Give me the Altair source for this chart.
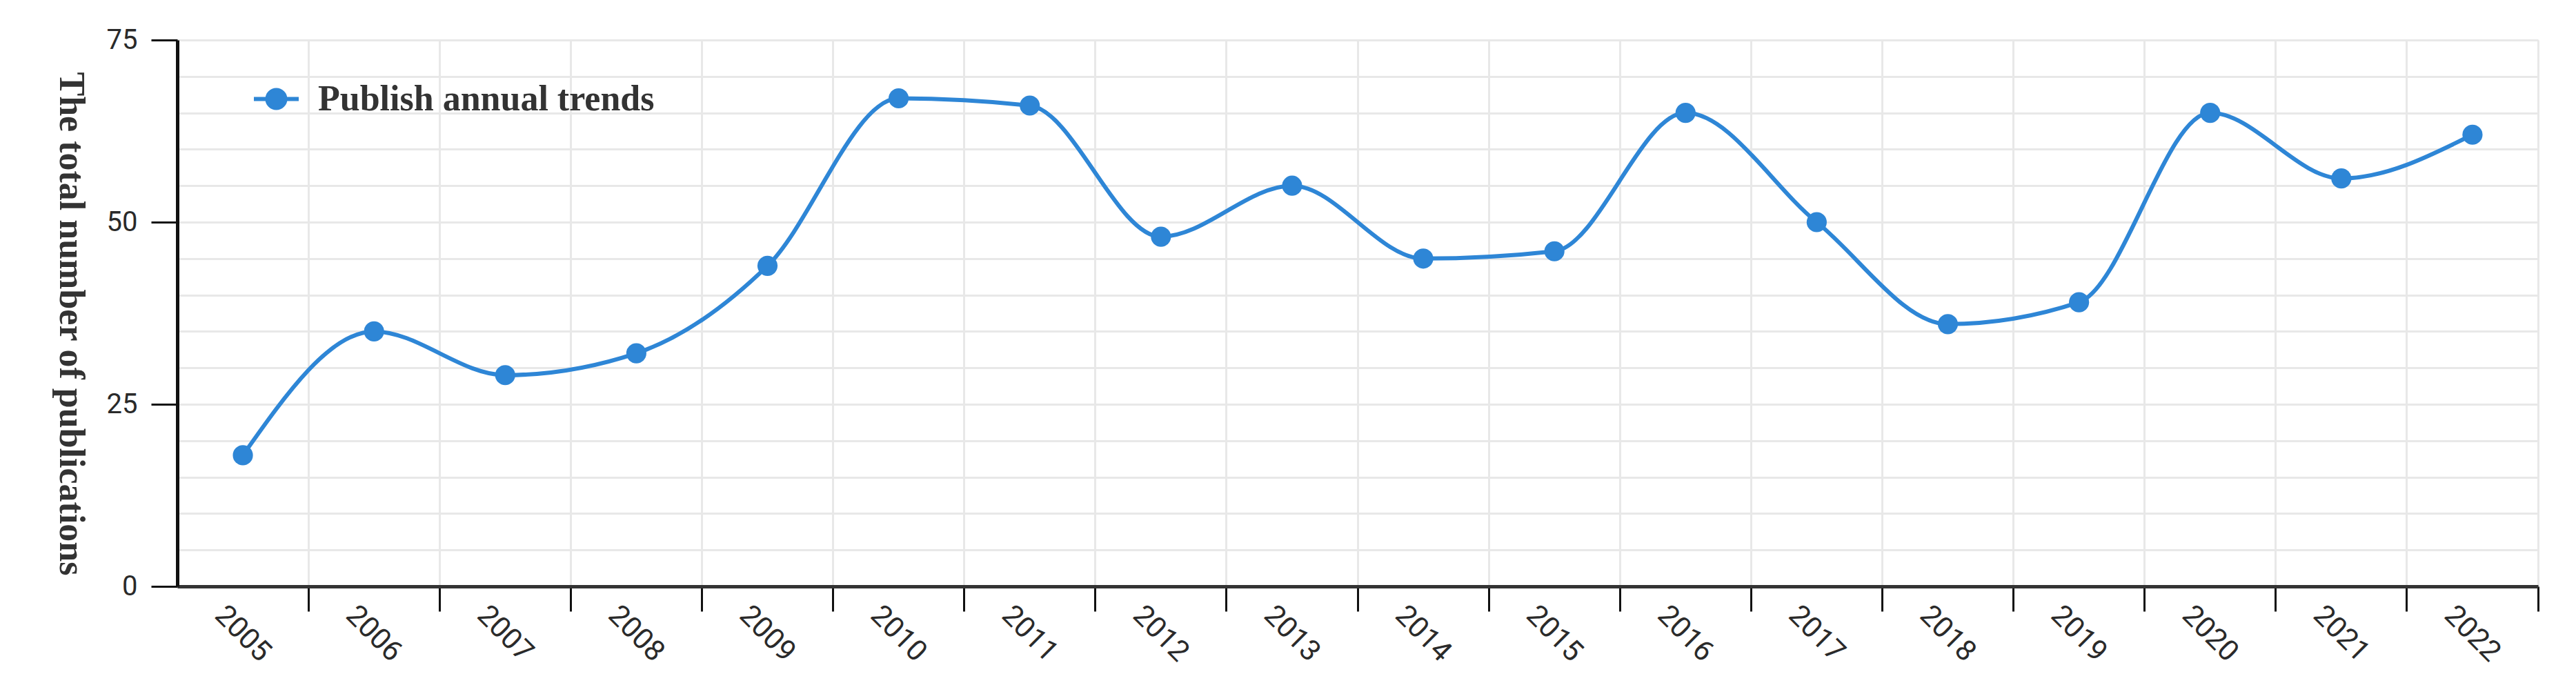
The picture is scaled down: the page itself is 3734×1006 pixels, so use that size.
import altair as alt
import pandas as pd

years = ["2005", "2006", "2007", "2008", "2009", "2010", "2011", "2012", "2013",
         "2014", "2015", "2016", "2017", "2018", "2019", "2020", "2021", "2022"]
counts = [18, 35, 29, 32, 44, 67, 66, 48, 55, 45, 46, 65, 50, 36, 39, 65, 56, 62]
series_name = "Publish annual trends"
y_title = "The total number of publications"
grid_values = list(range(0, 80, 5))

df = pd.DataFrame({"year": years, "count": counts, "series": [series_name] * len(years)})

BLUE = "#2e86d6"
W, H = 3422, 792

x_enc = alt.X(
    "year:O",
    bandPosition=0.5,
    scale=alt.Scale(type="band", paddingInner=0, paddingOuter=0),
    axis=alt.Axis(
        title=None, bandPosition=1, labelOffset=0,
        labelAngle=45, labelAlign="center", labelBaseline="middle",
        labelPadding=32, labelFont="Roboto", labelFontSize=42, labelColor="#2a2a2a",
        labelOverlap=False,
        tickSize=36, tickWidth=3, tickColor="#111",
        domainColor="#333", domainWidth=5,
        grid=True, gridColor="#e8e8e8", gridWidth=3,
    ),
)

y_enc = alt.Y(
    "count:Q",
    scale=alt.Scale(domain=[0, 75], nice=False, zero=True),
    axis=alt.Axis(
        title=y_title, values=grid_values,
        labelExpr="datum.value % 25 === 0 ? datum.label : ''",
        tickOpacity={"condition": {"test": "datum.value % 25 === 0", "value": 1}, "value": 0},
        tickSize=38, tickWidth=3, tickColor="#111",
        domainColor="#111", domainWidth=5,
        labelPadding=20, labelFont="Roboto", labelFontSize=40, labelColor="#2a2a2a",
        grid=True, gridColor="#e8e8e8", gridWidth=3,
        titleFont="Liberation Serif", titleFontWeight="bold", titleFontSize=52,
        titleColor="#333", titleAngle=90, titleX=-155, titleY=411,
        titleAlign="center", titleBaseline="middle",
    ),
)

legend = alt.Legend(
    title=None, orient="none", legendX=108, legendY=50, padding=0,
    symbolType="M-1,0L1,0M-0.4,0A0.4,0.4,0,1,0,0.4,0A0.4,0.4,0,1,0,-0.4,0Z",
    symbolSize=4225, symbolStrokeWidth=6,
    symbolFillColor=BLUE, symbolStrokeColor=BLUE, symbolOpacity=1,
    labelFont="Liberation Serif", labelFontWeight="bold", labelFontSize=52,
    labelColor="#333", labelOffset=25, labelLimit=2000,
)

color_enc = alt.Color("series:N", scale=alt.Scale(range=[BLUE]), legend=legend)

base = alt.Chart(df)
line = base.mark_line(interpolate="monotone", strokeWidth=6).encode(x=x_enc, y=y_enc, color=color_enc)
pts = base.mark_point(filled=True, size=850, opacity=1).encode(x=x_enc, y=y_enc, color=color_enc)

chart = (
    alt.layer(line, pts)
    .properties(width=W, height=H, padding={"left": 67, "top": 30, "right": 5, "bottom": 5})
    .configure_view(stroke=None)
    .configure(background="white")
)

chart.save("out.html", embed_options={"renderer": "svg", "actions": False})
